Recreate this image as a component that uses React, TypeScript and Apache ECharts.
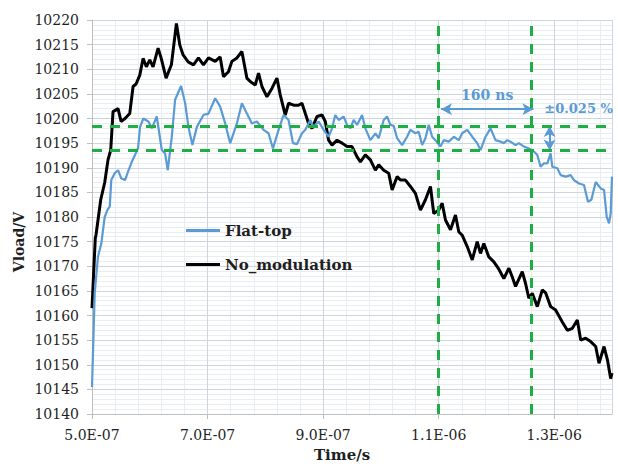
import React, { useEffect, useRef } from "react";
import * as echarts from "echarts";

// Time in microseconds (axis labels show seconds), voltage in V
const noModTime = [
  0.5, 0.5057, 0.507, 0.5151, 0.522, 0.5277, 0.5324, 0.5364, 0.5451, 0.5503, 0.5572, 0.5653, 0.5711,
  0.5763, 0.5827, 0.5884, 0.5941, 0.6, 0.6057, 0.6144, 0.6196, 0.6282, 0.6374, 0.6461, 0.652, 0.6577,
  0.6664, 0.6756, 0.6842, 0.6929, 0.7016, 0.7132, 0.7218, 0.7276, 0.7362, 0.7421, 0.7508, 0.7594,
  0.7681, 0.7738, 0.7825, 0.7882, 0.7941, 0.8028, 0.8114, 0.8201, 0.8258, 0.8345, 0.8402, 0.8489,
  0.8575, 0.8634, 0.8692, 0.8749, 0.8808, 0.8894, 0.8981, 0.9038, 0.9095, 0.9154, 0.9241, 0.9328,
  0.9414, 0.9501, 0.9588, 0.9645, 0.9731, 0.9818, 0.9905, 0.9962, 1.0049, 1.0135, 1.0194, 1.0281,
  1.0338, 1.0425, 1.0511, 1.0598, 1.0685, 1.0771, 1.0858, 1.0915, 1.1002, 1.1061, 1.1118, 1.1205,
  1.1291, 1.1348, 1.1407, 1.1494, 1.1581, 1.1667, 1.1724, 1.1782, 1.1868, 1.1955, 1.2042, 1.2128,
  1.2215, 1.2274, 1.2331, 1.2447, 1.2504, 1.2561, 1.262, 1.2707, 1.2794, 1.2851, 1.2938, 1.3024,
  1.314, 1.3227, 1.3314, 1.34, 1.3458, 1.3544, 1.3631, 1.3718, 1.3775, 1.3862, 1.3921, 1.3977, 1.4,
];
const noModV = [
  10161.5, 10175.7, 10176.4, 10183.5, 10187, 10191.6, 10193.6, 10201.4, 10202, 10199.4, 10200, 10201, 10206.5,
  10207, 10208.8, 10212.2, 10210.5, 10211.9, 10210.5, 10214.3, 10212.3, 10208.2, 10210.9, 10219.3, 10214.9, 10212.9,
  10211.5, 10210.9, 10212.3, 10210.9, 10212.3, 10211.6, 10212.5, 10208.5, 10209.5, 10211.6, 10212.3, 10213.6,
  10208.2, 10207.5, 10206.8, 10209.2, 10206.5, 10204.4, 10206.1, 10208.2, 10204.8, 10200.7, 10203.1, 10202.7,
  10202.7, 10203.1, 10201, 10199, 10198, 10200.4, 10200.7, 10199.4, 10195.6, 10194.6, 10195.6, 10195,
  10194.3, 10194.3, 10192.2, 10191.2, 10192.6, 10191.6, 10189.5, 10190.6, 10189.5, 10188.9, 10185.5, 10188.2,
  10187.5, 10187.5, 10186.2, 10184.8, 10181.4, 10183.5, 10186.2, 10180.7, 10181.4, 10182.8, 10179.4, 10177.4,
  10180.4, 10177, 10176.3, 10174, 10171.3, 10175, 10172.6, 10174.6, 10171.9, 10170.9, 10169.4, 10167.5,
  10169.6, 10167.8, 10165.9, 10168.9, 10166.5, 10163.5, 10164.5, 10161.8, 10165.2, 10164.6, 10161.8, 10161.1,
  10158.7, 10157, 10157.4, 10159.1, 10155, 10155.4, 10154.7, 10153.7, 10150.3, 10153.7, 10151, 10147.2, 10148.3,
];

const flatTopTime = [
  0.5, 0.5047, 0.5104, 0.5161, 0.522, 0.5265, 0.5307, 0.5334, 0.5393, 0.5451, 0.5508, 0.5572, 0.5624,
  0.5688, 0.574, 0.5797, 0.5832, 0.5889, 0.5976, 0.6035, 0.6121, 0.6208, 0.6265, 0.6312, 0.6381, 0.6438,
  0.6542, 0.6612, 0.6669, 0.6738, 0.6815, 0.6929, 0.7016, 0.7132, 0.7218, 0.7305, 0.7392, 0.7508, 0.7594,
  0.7681, 0.7768, 0.7854, 0.7969, 0.8055, 0.8132, 0.8229, 0.8315, 0.8402, 0.8478, 0.8548, 0.8634, 0.8692,
  0.8778, 0.8835, 0.8922, 0.9009, 0.9095, 0.9154, 0.9211, 0.9269, 0.9355, 0.9414, 0.9471, 0.9529, 0.9588,
  0.9674, 0.9731, 0.9818, 0.9905, 0.9962, 1.0049, 1.0107, 1.0165, 1.0222, 1.0281, 1.0367, 1.0454, 1.0511,
  1.0598, 1.0655, 1.0714, 1.0771, 1.0828, 1.0887, 1.0944, 1.1031, 1.1088, 1.1175, 1.1262, 1.1348, 1.1407,
  1.1494, 1.1581, 1.1667, 1.1724, 1.1811, 1.1898, 1.1984, 1.2071, 1.2128, 1.2187, 1.2244, 1.2331, 1.2388,
  1.2475, 1.2561, 1.2648, 1.2707, 1.2764, 1.2822, 1.2881, 1.2938, 1.2967, 1.3054, 1.3111, 1.3198, 1.3284,
  1.3342, 1.3429, 1.3515, 1.3584, 1.3643, 1.3718, 1.3804, 1.3862, 1.3909, 1.3948, 1.3977, 1.4,
];
const flatTopV = [
  10145.5, 10164.6, 10172, 10174.6, 10180, 10181.4, 10182.1, 10187.5, 10188.9, 10189.5, 10187.8, 10187.5, 10189.2,
  10191.2, 10192.5, 10194, 10198.3, 10200, 10199.4, 10198, 10200.4, 10193.6, 10192.9, 10189.5, 10196.3, 10203.8,
  10206.6, 10203.1, 10198.3, 10194.6, 10198.3, 10200.7, 10201, 10204.1, 10202.4, 10199, 10195, 10199, 10203.1,
  10201, 10199, 10199.4, 10197.7, 10197, 10193.9, 10197.7, 10200.7, 10199.7, 10195, 10194.8, 10197, 10197.7,
  10199.7, 10198.3, 10199.4, 10197.7, 10196.3, 10198, 10200.7, 10199.7, 10200.4, 10198.7, 10198, 10199.7, 10198.7,
  10200.7, 10198, 10195.6, 10197, 10196, 10199.7, 10200.4, 10198.7, 10198.5, 10196, 10194.6, 10196.3, 10197.7,
  10197, 10197.3, 10194.6, 10196, 10198.7, 10196.3, 10195.6, 10194.3, 10195.6, 10195.3, 10196.3, 10195.6, 10197,
  10197.7, 10196.3, 10195, 10193.6, 10196.3, 10198, 10195.6, 10195.3, 10195, 10195.6, 10195.3, 10194.6, 10195,
  10194.3, 10193.9, 10193.3, 10192.6, 10190.2, 10190.9, 10190.9, 10192.9, 10190.2, 10189.9, 10188.5, 10188.2, 10188.5,
  10187.5, 10186.8, 10186.5, 10183.1, 10183.5, 10187.1, 10185.8, 10185.5, 10180, 10178.7, 10180.7, 10188.2,
];

const seriesNames = ["Flat-top", "No_modulation"];
const bandLevels = [10198.5, 10193.5]; // ±0.025 %
const windowTimes = [1.104, 1.264]; // 160 ns window
const windowArrowLevel = 10201.9;
const toleranceArrowTime = 1.292;
const windowLabel = "160 ns";
const toleranceLabel = "±0.025 %";

const SERIF = '"DejaVu Serif"';
const BLUE = "#5b9bd5";
const GREEN = "#1fae45";
const INK = "#1e1e1e";

function fmtTime(v: number): string {
  if (Math.abs(v - 1.4) < 1e-6) return "";
  const s = v * 1e-6;
  const exp = Math.floor(Math.log10(s) + 1e-9);
  const m = s / Math.pow(10, exp);
  return `${m.toFixed(1)}E-${String(-exp).padStart(2, "0")}`;
}

export default function App() {
  const ref = useRef<HTMLDivElement>(null);
  useEffect(() => {
    if (!ref.current) return;
    const chart = echarts.init(ref.current, undefined, { renderer: "svg" });
    const flat = flatTopTime.map((t, i) => [t, flatTopV[i]]);
    const nomod = noModTime.map((t, i) => [t, noModV[i]]);
    chart.setOption({
      animation: false,
      backgroundColor: "#ffffff",
      textStyle: { fontFamily: SERIF },
      grid: { left: 92, right: 6, top: 20, bottom: 50, containLabel: false },
      legend: {
        orient: "vertical",
        left: 181,
        top: 218,
        itemGap: 19,
        itemWidth: 34,
        itemHeight: 3,
        icon: "rect",
        textStyle: { fontFamily: SERIF, fontWeight: "bold", fontSize: 15, color: INK },
        data: seriesNames,
      },
      xAxis: [
        {
          type: "value",
          min: 0.5,
          max: 1.4,
          interval: 0.2,
          axisLine: { show: true, lineStyle: { color: "#bfbfbf", width: 1 } },
          axisTick: { show: true, length: 5, lineStyle: { color: "#bfbfbf" } },
          axisLabel: {
            formatter: fmtTime,
            fontFamily: SERIF,
            fontSize: 14,
            color: INK,
            margin: 14,
            showMaxLabel: false,
          },
          splitLine: { show: true, lineStyle: { color: "#cdd6e0", width: 1 } },
        },
        {
          type: "value",
          min: 0.5,
          max: 1.4,
          interval: 0.04,
          position: "bottom",
          axisLine: { show: false },
          axisTick: { show: false },
          axisLabel: { show: false },
          splitLine: { show: true, lineStyle: { color: "#e8edf2", width: 1 } },
          z: -1,
        },
      ],
      yAxis: {
        type: "value",
        min: 10140,
        max: 10220,
        interval: 5,
        axisLine: { show: true, lineStyle: { color: "#bfbfbf", width: 1 } },
        axisTick: { show: true, length: 5, lineStyle: { color: "#bfbfbf" } },
        axisLabel: {
          fontFamily: SERIF,
          fontSize: 14,
          color: INK,
          margin: 13,
          formatter: (v: number) => String(Math.round(v)),
        },
        splitLine: { show: true, lineStyle: { color: "#cdd6e0", width: 1 } },
        minorTick: { show: false, splitNumber: 5 },
        minorSplitLine: { show: true, lineStyle: { color: "#e8edf2", width: 1 } },
      },
      graphic: [
        {
          type: "text",
          x: 19,
          y: 242,
          rotation: Math.PI / 2,
          style: {
            text: "Vload/V",
            font: `bold 14px ${SERIF}`,
            fill: INK,
            align: "center",
            verticalAlign: "middle",
          },
        },
        {
          type: "text",
          x: 342,
          y: 455,
          style: {
            text: "Time/s",
            font: `bold 15px ${SERIF}`,
            fill: INK,
            align: "center",
            verticalAlign: "middle",
          },
        },
      ],
      series: [
        {
          name: seriesNames[1],
          type: "line",
          data: nomod,
          showSymbol: false,
          lineStyle: { color: "#000000", width: 3 },
          itemStyle: { color: "#000000" },
          z: 3,
        },
        {
          name: seriesNames[0],
          type: "line",
          data: flat,
          showSymbol: false,
          lineStyle: { color: BLUE, width: 2.2 },
          itemStyle: { color: BLUE },
          z: 4,
          markLine: {
            silent: true,
            symbol: ["arrow", "arrow"],
            symbolSize: [9, 11],
            lineStyle: { color: BLUE, width: 2, type: "solid" },
            label: { show: false },
            data: [
              [
                { coord: [windowTimes[0], windowArrowLevel] },
                {
                  coord: [windowTimes[1], windowArrowLevel],
                  label: {
                    show: true,
                    position: "middle",
                    formatter: windowLabel,
                    fontFamily: SERIF,
                    fontWeight: "bold",
                    fontSize: 14,
                    color: BLUE,
                    distance: 7,
                  },
                },
              ],
              [
                { coord: [toleranceArrowTime, bandLevels[0]] },
                { coord: [toleranceArrowTime, bandLevels[1]] },
              ],
            ],
          },
          markPoint: {
            silent: true,
            symbol: "circle",
            symbolSize: 0,
            data: [
              {
                coord: [toleranceArrowTime, bandLevels[0]],
                label: {
                  show: true,
                  formatter: toleranceLabel,
                  fontFamily: SERIF,
                  fontWeight: "bold",
                  fontSize: 13,
                  color: BLUE,
                  offset: [29, -17],
                },
              },
            ],
          },
        },
        {
          name: "guides",
          type: "line",
          data: [],
          z: 5,
          markLine: {
            silent: true,
            symbol: "none",
            lineStyle: { color: GREEN, width: 3, type: [10, 8] },
            label: { show: false },
            data: [
              { yAxis: bandLevels[0] },
              { yAxis: bandLevels[1] },
              { xAxis: windowTimes[0] },
              { xAxis: windowTimes[1] },
            ],
          },
        },
      ],
    });
    return () => chart.dispose();
  }, []);
  return (
    <div
      ref={ref}
      style={{ position: "absolute", left: 0, top: 0, width: 618, height: 464 }}
    />
  );
}
